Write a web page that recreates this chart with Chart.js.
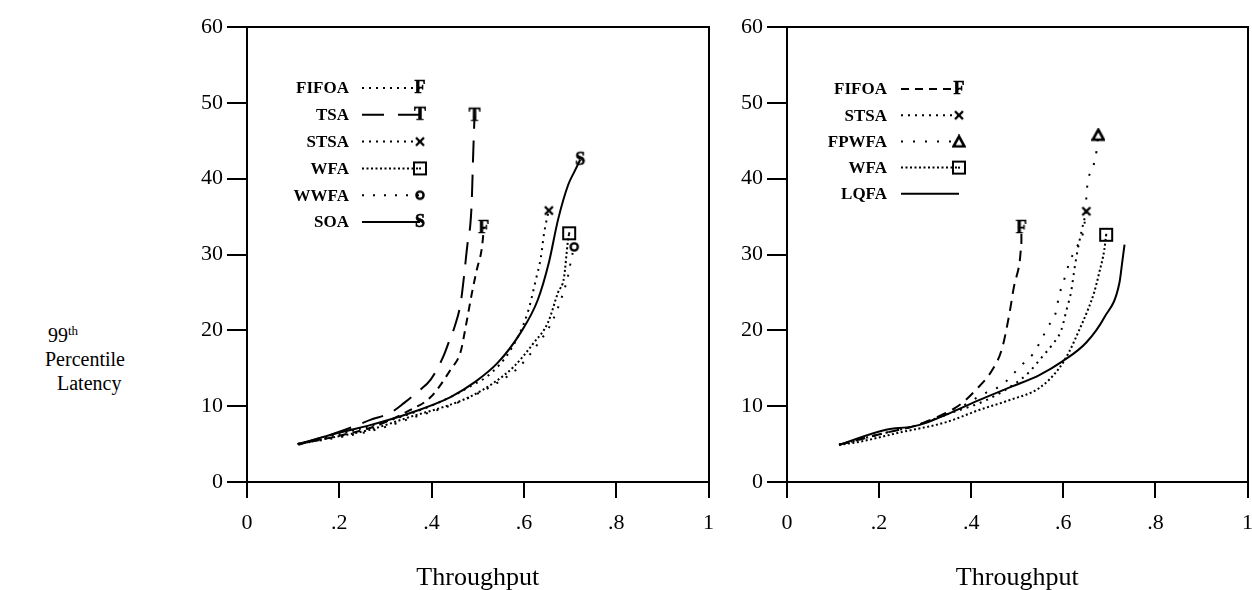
<!DOCTYPE html>
<html><head><meta charset="utf-8">
<script src="https://cdn.jsdelivr.net/npm/chart.js@4"></script>
<style>
html,body{margin:0;padding:0;background:#fff;width:1252px;height:590px;overflow:hidden;}
.wrap{position:absolute;top:0;height:590px;}
.yl{position:absolute;font-family:"Liberation Serif","Times New Roman",serif;font-size:20px;color:#000;white-space:nowrap;line-height:1;}
.yl sup{font-size:13px;vertical-align:7px;line-height:0;}
</style></head><body>
<div class="yl" style="left:48px;top:325px;">99<sup>th</sup></div>
<div class="yl" style="left:45px;top:349px;">Percentile</div>
<div class="yl" style="left:57px;top:373px;">Latency</div>
<div class="wrap" style="left:140px;width:586px"><canvas id="c1" width="586" height="590"></canvas></div>
<div class="wrap" style="left:680px;width:585px"><canvas id="c2" width="585" height="590"></canvas></div>
<script>
// ---------- data ----------
const xTickLabels = ['0', '.2', '.4', '.6', '.8', '1'];
const yTickLabels = ['0', '10', '20', '30', '40', '50', '60'];
const xTitle = 'Throughput';

// left panel
const leftFifoX = [0.11, 0.20, 0.28, 0.354, 0.398, 0.441, 0.463, 0.474, 0.487, 0.498, 0.508, 0.511, 0.513];
const leftFifoY = [5.0, 6.1, 7.4, 9.5, 11.2, 14.8, 17.2, 20.5, 24.8, 28.0, 30.5, 32.0, 33.5];
const leftTsaX = [0.11, 0.18, 0.239, 0.267, 0.31, 0.34, 0.37, 0.398, 0.425, 0.437, 0.450, 0.463, 0.470, 0.478, 0.484, 0.487, 0.490, 0.493];
const leftTsaY = [5.0, 6.2, 7.5, 8.2, 9.1, 10.4, 11.9, 13.5, 16.5, 18.4, 20.5, 23.6, 27.0, 31.5, 34.0, 37.0, 43.0, 48.3];
const leftStsaX = [0.11, 0.18, 0.267, 0.354, 0.441, 0.492, 0.522, 0.572, 0.608, 0.626, 0.637, 0.643, 0.648, 0.654];
const leftStsaY = [5.0, 6.0, 7.4, 9.0, 11.2, 12.9, 14.0, 17.5, 22.3, 26.7, 29.7, 32.5, 34.2, 35.8];
const leftWfaX = [0.11, 0.196, 0.267, 0.354, 0.441, 0.485, 0.535, 0.578, 0.622, 0.652, 0.674, 0.687, 0.695, 0.698];
const leftWfaY = [5.0, 6.0, 6.9, 8.6, 10.2, 11.3, 13.1, 15.2, 18.4, 21.0, 25.0, 27.0, 31.6, 32.8];
const leftWwfaX = [0.11, 0.20, 0.28, 0.36, 0.45, 0.54, 0.59, 0.63, 0.66, 0.68, 0.695, 0.703, 0.709];
const leftWwfaY = [5.0, 5.9, 6.9, 8.5, 10.3, 13.0, 15.2, 18.2, 21.0, 24.0, 27.0, 29.5, 31.0];
const leftSoaX = [0.111, 0.18, 0.267, 0.354, 0.441, 0.492, 0.543, 0.593, 0.630, 0.654, 0.674, 0.696, 0.710, 0.722];
const leftSoaY = [4.9, 6.2, 7.5, 9.1, 11.2, 13.1, 15.7, 19.7, 24.0, 28.9, 34.6, 39.2, 41.0, 42.5];

// right panel
const rightFifoX = [0.113, 0.215, 0.272, 0.345, 0.380, 0.411, 0.446, 0.467, 0.483, 0.493, 0.505, 0.509, 0.509];
const rightFifoY = [4.9, 6.5, 7.3, 9.1, 10.4, 12.2, 14.8, 17.6, 22.2, 25.8, 28.9, 31.0, 33.5];
const rightStsaX = [0.113, 0.215, 0.272, 0.346, 0.433, 0.498, 0.526, 0.554, 0.576, 0.596, 0.607, 0.617, 0.624, 0.630, 0.639, 0.650];
const rightStsaY = [4.9, 6.5, 7.3, 8.9, 10.8, 13.1, 14.5, 16.5, 18.1, 20.1, 22.7, 25.1, 28.0, 30.2, 32.9, 35.7];
const rightFpwfaX = [0.113, 0.215, 0.272, 0.346, 0.433, 0.467, 0.489, 0.511, 0.533, 0.550, 0.567, 0.583, 0.591, 0.602, 0.613, 0.624, 0.635, 0.646, 0.652, 0.665, 0.672, 0.676];
const rightFpwfaY = [4.9, 6.5, 7.3, 8.9, 11.8, 12.8, 14.1, 15.5, 16.8, 18.5, 20.5, 22.2, 24.6, 26.7, 28.9, 30.4, 31.7, 34.0, 39.0, 41.6, 43.6, 45.8];
const rightWfaX = [0.113, 0.157, 0.243, 0.346, 0.417, 0.483, 0.548, 0.591, 0.613, 0.635, 0.652, 0.667, 0.678, 0.689, 0.693];
const rightWfaY = [4.9, 5.3, 6.5, 7.9, 9.5, 10.8, 12.4, 15.0, 17.2, 20.1, 22.5, 25.0, 27.6, 30.6, 32.6];
const rightLqfaX = [0.113, 0.215, 0.272, 0.302, 0.346, 0.417, 0.489, 0.548, 0.598, 0.650, 0.689, 0.722, 0.728, 0.733];
const rightLqfaY = [4.9, 6.9, 7.3, 7.8, 8.9, 10.8, 12.6, 14.1, 15.9, 18.4, 21.7, 26.3, 29.0, 31.3];

// ---------- markers ----------
const SERIF = '"Liberation Serif","Times New Roman",serif';
function mk(w, h, draw) {
  const c = document.createElement('canvas'); c.width = w; c.height = h;
  const g = c.getContext('2d'); g.fillStyle = '#000'; g.strokeStyle = '#000';
  draw(g, w, h); return c;
}
function letter(ch) {
  return mk(18, 22, g => { g.font = 'bold 18px ' + SERIF; g.textAlign = 'center'; g.textBaseline = 'middle'; g.fillText(ch, 9, 11); g.lineWidth = 0.6; g.strokeText(ch, 9, 11); });
}
const MARK = {
  F: letter('F'), T: letter('T'), S: letter('S'),
  x: mk(12, 12, g => { g.lineWidth = 2.4; g.beginPath(); g.moveTo(2, 2); g.lineTo(10, 10); g.moveTo(10, 2); g.lineTo(2, 10); g.stroke(); }),
  sq: mk(16, 16, g => { g.lineWidth = 2; g.strokeRect(2, 2, 12, 12); g.fillRect(7, 7, 2, 2); }),
  o: mk(12, 12, g => { g.lineWidth = 2.4; g.beginPath(); g.arc(6, 6, 3.6, 0, Math.PI * 2); g.stroke(); }),
  tri: mk(14, 14, g => { g.lineWidth = 2.6; g.lineJoin = 'miter'; g.beginPath(); g.moveTo(7, 2); g.lineTo(12.5, 12); g.lineTo(1.5, 12); g.closePath(); g.stroke(); })
};

function series(label, xs, ys, dash, marker, legendDash) {
  return {
    label, data: xs.map((x, i) => ({ x, y: ys[i] })),
    borderColor: '#000', backgroundColor: '#000', borderWidth: 2, borderDash: dash,
    borderCapStyle: 'butt', fill: false, cubicInterpolationMode: 'monotone',
    pointStyle: marker || 'circle',
    pointRadius: ctx => (marker && ctx.dataIndex === xs.length - 1) ? 6 : 0,
    pointHoverRadius: 0, clip: false,
    legendDash: legendDash || dash, legendMarker: marker
  };
}

// ---------- plugin: in-plot legend ----------
const paperLegend = {
  id: 'paperLegend',
  afterDatasetsDraw(chart, args, opts) {
    const { ctx, chartArea } = chart;
    ctx.save();
    ctx.font = 'bold 17px ' + SERIF;
    ctx.textAlign = 'right'; ctx.textBaseline = 'middle'; ctx.fillStyle = '#000'; ctx.strokeStyle = '#000';
    chart.data.datasets.forEach((ds, i) => {
      const y = chartArea.top + opts.top + i * opts.dy;
      ctx.fillText(ds.label, chartArea.left + opts.labelRight, y + 1);
      ctx.beginPath(); ctx.lineWidth = 2; ctx.setLineDash(ds.legendDash);
      ctx.moveTo(chartArea.left + opts.lineStart, y);
      ctx.lineTo(chartArea.left + opts.lineEnd, y); ctx.stroke();
      ctx.setLineDash([]);
      if (ds.legendMarker) {
        const m = ds.legendMarker;
        ctx.drawImage(m, chartArea.left + opts.lineEnd - m.width / 2, y - m.height / 2);
      }
    });
    ctx.restore();
  }
};

function makeOptions(legendOpts) {
  const font = { family: SERIF, size: 22 };
  return {
    responsive: false, animation: false,
    layout: { autoPadding: false, padding: { top: 27, right: 0, left: 0, bottom: 0 } },
    plugins: { legend: { display: false }, tooltip: { enabled: false }, paperLegend: legendOpts },
    scales: {
      x: {
        type: 'linear', min: 0, max: 1, position: 'bottom',
        ticks: { stepSize: 0.2, color: '#000', font, padding: 12, maxRotation: 0,
          callback: (v, i) => xTickLabels[i] },
        grid: { drawOnChartArea: false, drawTicks: true, tickLength: 16, color: '#000', lineWidth: 2 },
        border: { color: '#000', width: 2 },
        title: { display: true, text: xTitle, color: '#000', font: { family: SERIF, size: 26, lineHeight: 1 }, padding: { top: 0, bottom: -1 } },
        afterFit: s => { s.height = 108; }
      },
      y: {
        type: 'linear', min: 0, max: 60, position: 'left',
        ticks: { stepSize: 10, color: '#000', font, padding: 4, callback: (v, i) => yTickLabels[i] },
        grid: { drawOnChartArea: false, drawTicks: true, tickLength: 20, color: '#000', lineWidth: 2 },
        border: { color: '#000', width: 2 },
        afterFit: s => { s.width = 107; }
      },
      xTop: {
        type: 'linear', min: 0, max: 1, position: 'top', display: true,
        ticks: { display: false }, grid: { display: false, drawTicks: false },
        border: { color: '#000', width: 2 }, afterFit: s => { s.height = 0; }
      },
      yRight: {
        type: 'linear', min: 0, max: 60, position: 'right', display: true,
        ticks: { display: false }, grid: { display: false, drawTicks: false },
        border: { color: '#000', width: 2 }, afterFit: s => { s.width = 0; }
      }
    }
  };
}

new Chart(document.getElementById('c1'), {
  type: 'line',
  data: { datasets: [
    series('FIFOA', leftFifoX, leftFifoY, [8, 6], MARK.F, [2, 5]),
    series('TSA', leftTsaX, leftTsaY, [22, 12], MARK.T, [22, 14]),
    series('STSA', leftStsaX, leftStsaY, [2, 5], MARK.x),
    series('WFA', leftWfaX, leftWfaY, [2, 2.5], MARK.sq),
    series('WWFA', leftWwfaX, leftWwfaY, [2, 9], MARK.o),
    series('SOA', leftSoaX, leftSoaY, [], MARK.S)
  ] },
  options: makeOptions({ top: 61, dy: 26.8, labelRight: 102, lineStart: 115, lineEnd: 173 }),
  plugins: [paperLegend]
});

new Chart(document.getElementById('c2'), {
  type: 'line',
  data: { datasets: [
    series('FIFOA', rightFifoX, rightFifoY, [10, 7], MARK.F, [8, 6]),
    series('STSA', rightStsaX, rightStsaY, [2, 5], MARK.x),
    series('FPWFA', rightFpwfaX, rightFpwfaY, [2, 10], MARK.tri),
    series('WFA', rightWfaX, rightWfaY, [2, 2.5], MARK.sq),
    series('LQFA', rightLqfaX, rightLqfaY, [], null)
  ] },
  options: makeOptions({ top: 62, dy: 26.2, labelRight: 100, lineStart: 114, lineEnd: 172 }),
  plugins: [paperLegend]
});
</script>
</body></html>
